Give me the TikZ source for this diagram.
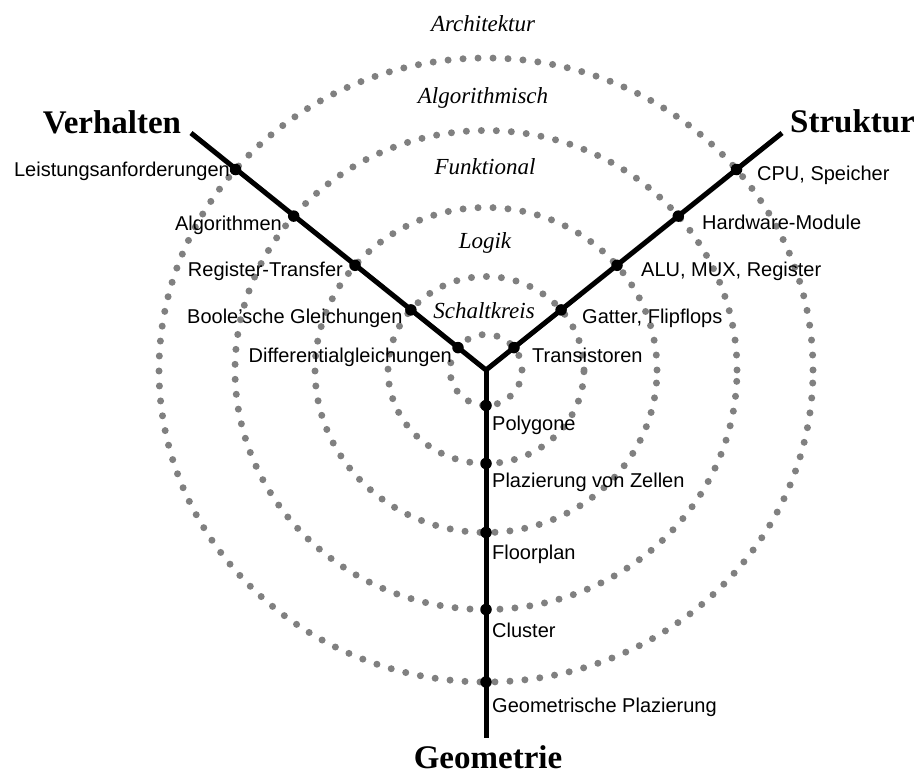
\documentclass[tikz,border=0pt]{standalone}
\usepackage{fontspec}
\setmainfont{Liberation Serif}
\newfontfamily\labelsans{Liberation Sans}
\definecolor{dotgray}{RGB}{128,128,128}
\begin{document}
\begin{tikzpicture}[x=1pt,y=-1pt,
  lvl/.style={draw=dotgray, line width=7pt, line cap=round, dash pattern=on 0pt off 15pt},
  axisline/.style={line width=5pt, black},
  jdot/.style={circle, fill=black, minimum size=11.5pt, inner sep=0pt},
  lab/.style={font=\labelsans\fontsize{20}{23}\selectfont, inner sep=0pt},
  lvlname/.style={font=\itshape\fontsize{23}{26}\selectfont, inner sep=0pt, anchor=base},
  head/.style={font=\bfseries\fontsize{33}{36}\selectfont, inner sep=0pt, anchor=base}]
\useasboundingbox (0,0) rectangle (917,776);
% level ellipses
\coordinate (C) at (486,370);
\draw[lvl] (C) ellipse [x radius=36pt, y radius=35.5pt];
\draw[lvl] (C) ellipse [x radius=98pt, y radius=93.5pt];
\draw[lvl] (C) ellipse [x radius=171pt, y radius=162.5pt];
\draw[lvl] (C) ellipse [x radius=251pt, y radius=239.5pt];
\draw[lvl] (C) ellipse [x radius=327pt, y radius=312pt];
% axes
\coordinate (J) at (486,370);
\coordinate (Vend) at (191,133);
\coordinate (Send) at (782,133);
\coordinate (Gend) at (486,738);
\draw[axisline] (Vend) -- (J) -- (Send);
\draw[axisline] (J) -- (Gend);
% points on axes
\node[jdot] (l1) at (458,347.6) {};
\node[jdot] (l2) at (410.9,309.9) {};
\node[jdot] (l3) at (355,265.3) {};
\node[jdot] (l4) at (293.7,216.1) {};
\node[jdot] (l5) at (235.5,169.5) {};
\node[jdot] (r1) at (514,347.6) {};
\node[jdot] (r2) at (561.1,309.9) {};
\node[jdot] (r3) at (617,265.3) {};
\node[jdot] (r4) at (678.3,216.1) {};
\node[jdot] (r5) at (736.5,169.5) {};
\node[jdot] (b1) at (486,405.5) {};
\node[jdot] (b2) at (486,463.5) {};
\node[jdot] (b3) at (486,532.5) {};
\node[jdot] (b4) at (486,609.5) {};
\node[jdot] (b5) at (486,682) {};
% headings
\node[head] (hV) at (112,133) {Verhalten};
\node[head, anchor=base west] (hS) at (790,132) {Struktur};
\node[head] (hG) at (488,768) {Geometrie};
% level names
\node[lvlname] (n5) at (483,32) {Architektur};
\node[lvlname] (n4) at (483,103) {Algorithmisch};
\node[lvlname] (n3) at (485,174) {Funktional};
\node[lvlname] (n2) at (485,248) {Logik};
\node[lvlname] (n1) at (484,318) {Schaltkreis};
% behaviour labels
\node[lab, anchor=base east] (tl5) at (230,176) {Leistungsanforderungen};
\node[lab, anchor=base east] (tl4) at (282,230) {Algorithmen};
\node[lab, anchor=base east] (tl3) at (343,276) {Register-Transfer};
\node[lab, anchor=base west] (tl2) at (187,323) {Boole’sche Gleichungen};
\node[lab, anchor=base east] (tl1) at (452,362) {Differentialgleichungen};
% structure labels
\node[lab, anchor=base west] (tr5) at (757,180) {CPU, Speicher};
\node[lab, anchor=base west] (tr4) at (702,229) {Hardware-Module};
\node[lab, anchor=base west] (tr3) at (641,276) {ALU, MUX, Register};
\node[lab, anchor=base west] (tr2) at (582,323) {Gatter, Flipflops};
\node[lab, anchor=base west] (tr1) at (532,362) {Transistoren};
% geometry labels
\node[lab, anchor=base west] (tb1) at (492,430) {Polygone};
\node[lab, anchor=base west] (tb2) at (492,487) {Plazierung von Zellen};
\node[lab, anchor=base west] (tb3) at (492,559) {Floorplan};
\node[lab, anchor=base west] (tb4) at (492,637) {Cluster};
\node[lab, anchor=base west] (tb5) at (492,712) {Geometrische Plazierung};
\end{tikzpicture}
\end{document}
